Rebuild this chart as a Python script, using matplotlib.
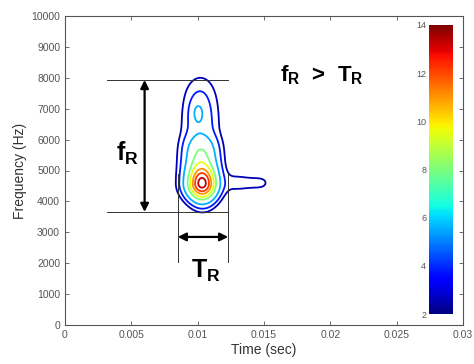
import numpy as np
import matplotlib
matplotlib.use('Agg')
import matplotlib.pyplot as plt
from matplotlib import cm, colors

plt.rcParams['font.family'] = ['Liberation Sans', 'DejaVu Sans']
plt.rcParams['mathtext.fontset'] = 'custom'
plt.rcParams['mathtext.rm'] = 'Liberation Sans'
plt.rcParams['mathtext.bf'] = 'Liberation Sans:bold'

# energy components (plateau, mid, core, upper blob, side tail):
# centre time/freq, time spread + exponent, freq spread above/below + exponents, amplitude
comp_t = [0.0102, 0.0103, 0.0104, 0.0100, 0.01405]
comp_f = [4585, 4585, 4585, 6880, 4600]
comp_st = [0.00125, 0.00105, 0.00085, 0.00035, 0.00145]
comp_pt = [2, 2, 2, 2, 4]
comp_sf_up = [3265, 1308, 378, 270, 280]
comp_p_up = [6, 6, 2, 2, 2]
comp_sf_dn = [420, 500, 600, 270, 280]
comp_p_dn = [2, 2, 2, 2, 2]
comp_amp = [5.0, 3.5, 5.5, 1.5, 3.0]

levels = [2.6, 3.8, 5.6, 8.0, 9.5, 11.0, 12.2, 13.4]
cbar_ticks = [2, 4, 6, 8, 10, 12, 14]
x_ticks = [0, 0.005, 0.01, 0.015, 0.02, 0.025, 0.03]
x_labels = ['0', '0.005', '0.01', '0.015', '0.02', '0.025', '0.03']
y_ticks = [0, 1000, 2000, 3000, 4000, 5000, 6000, 7000, 8000, 9000, 10000]

# annotation extents
f_top, f_bot = 7930, 3660
t_left, t_right = 0.0085, 0.0123

t = np.linspace(0.005, 0.018, 500)
f = np.linspace(2500, 9000, 500)
T, F = np.meshgrid(t, f)
Z = np.zeros_like(T)
for i in range(len(comp_amp)):
    dt = np.abs(T - comp_t[i]) / comp_st[i]
    up = F > comp_f[i]
    df = np.abs(F - comp_f[i]) / np.where(up, comp_sf_up[i], comp_sf_dn[i])
    pf = np.where(up, comp_p_up[i], comp_p_dn[i])
    Z += comp_amp[i] * np.exp(-0.5 * dt ** comp_pt[i]) * np.exp(-0.5 * df ** pf)

fig = plt.figure(figsize=(4.74, 3.64), dpi=100)
ax = fig.add_axes([65 / 474, 39 / 364, 398 / 474, 309 / 364])
norm = colors.Normalize(vmin=2, vmax=14)
ax.contour(T, F, Z, levels=levels, cmap='jet', norm=norm, linewidths=1.3)

ax.set_xlim(0, 0.03)
ax.set_ylim(0, 10000)
ax.set_xticks(x_ticks)
ax.set_xticklabels(x_labels)
ax.set_yticks(y_ticks)
ax.tick_params(direction='in', top=True, right=True, labelsize=7.5,
               colors='#555555', length=3, width=0.6)
for s in ax.spines.values():
    s.set_color('#555555')
    s.set_linewidth(0.8)
ax.set_xlabel('Time (sec)', fontsize=10, color='#333333', labelpad=2)
ax.set_ylabel('Frequency (Hz)', fontsize=10, color='#333333', labelpad=3)

# guide lines and arrows
line_kw = dict(color='#333333', lw=0.7)
ax.plot([0.0032, t_right], [f_top, f_top], **line_kw)
ax.plot([0.0032, t_right], [f_bot, f_bot], **line_kw)
ax.plot([t_left, t_left], [4900, 2050], **line_kw)
ax.plot([t_right, t_right], [4900, 2050], **line_kw)
arr = dict(arrowstyle='<|-|>', color='black', lw=1.6, mutation_scale=12, shrinkA=0, shrinkB=0)
ax.annotate('', xy=(0.0060, f_top), xytext=(0.0060, f_bot), arrowprops=arr)
ax.annotate('', xy=(t_left, 2850), xytext=(t_right, 2850), arrowprops=arr)

ax.text(0.0047, 5550, r'$\mathbf{f_R}$', fontsize=18, ha='center', va='center')
ax.text(0.0106, 1750, r'$\mathbf{T_R}$', fontsize=18, ha='center', va='center')
ax.text(0.0194, 8090, r'$\mathbf{f_R}$  >  $\mathbf{T_R}$', fontsize=16,
        fontweight='bold', ha='center', va='center')

cax = fig.add_axes([429 / 474, 50 / 364, 24 / 474, 289 / 364])
cb = fig.colorbar(cm.ScalarMappable(norm=norm, cmap='jet'), cax=cax, ticks=cbar_ticks)
cb.outline.set_visible(False)
cax.yaxis.set_ticks_position('left')
cax.tick_params(length=0, labelsize=6.5, colors='#555555', pad=2)

fig.savefig('out.png', dpi=100)
